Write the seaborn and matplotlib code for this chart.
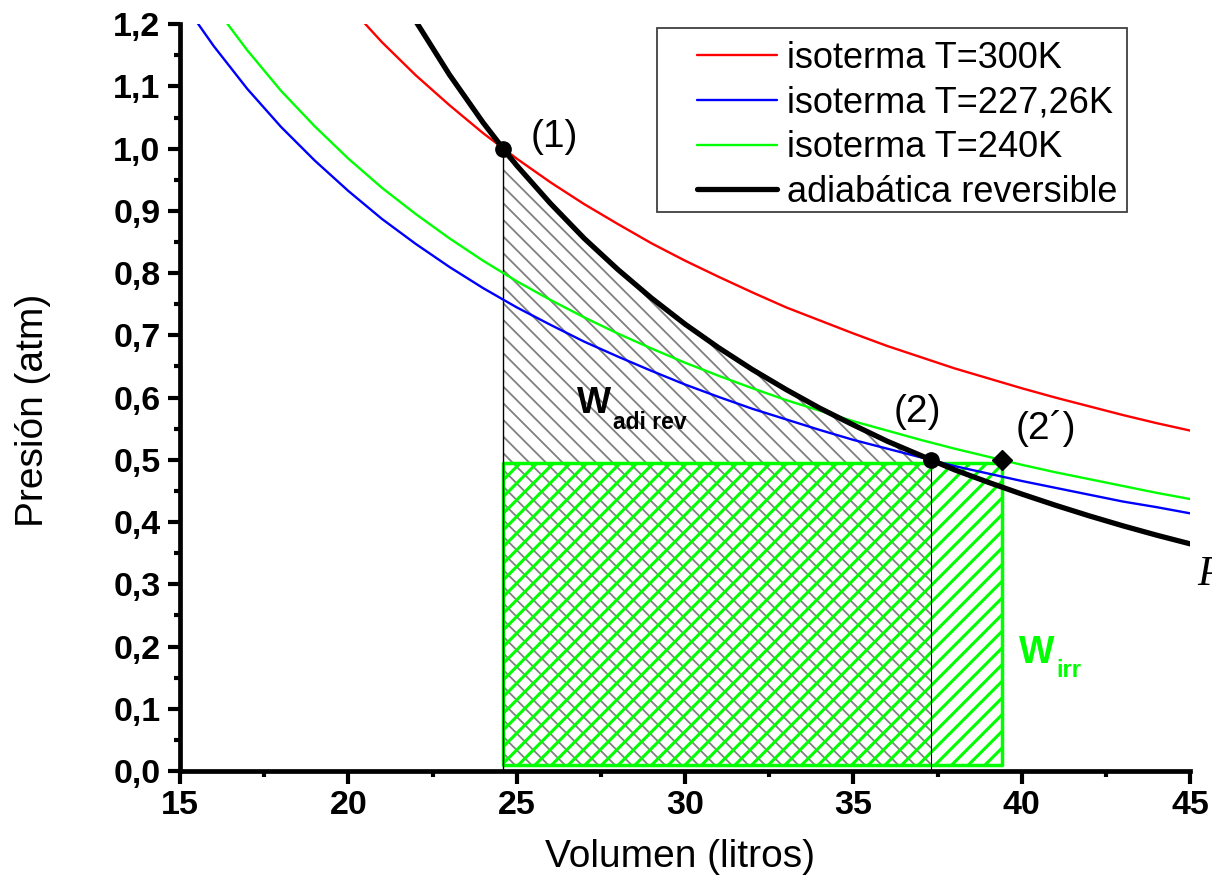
import numpy as np
import pandas as pd
import matplotlib
matplotlib.use("Agg")
import matplotlib.pyplot as plt
import seaborn as sns
from matplotlib.ticker import FuncFormatter, MultipleLocator
from matplotlib.patches import Rectangle

# ---- data ----
vol = [15, 16, 17, 18, 19, 20, 21, 22, 23, 24, 25, 26, 27, 28, 29, 30,
       31, 32, 33, 34, 35, 36, 37, 38, 39, 40, 41, 42, 43, 44, 45]
p_300 = [1.640, 1.538, 1.447, 1.367, 1.295, 1.230, 1.171, 1.118, 1.070, 1.025,
         0.984, 0.946, 0.911, 0.879, 0.848, 0.820, 0.794, 0.769, 0.745, 0.724,
         0.703, 0.683, 0.665, 0.647, 0.631, 0.615, 0.600, 0.586, 0.572, 0.559, 0.547]
p_227 = [1.242, 1.165, 1.096, 1.035, 0.981, 0.932, 0.887, 0.847, 0.810, 0.776,
         0.745, 0.717, 0.690, 0.666, 0.643, 0.621, 0.601, 0.582, 0.565, 0.548,
         0.532, 0.518, 0.504, 0.490, 0.478, 0.466, 0.455, 0.444, 0.433, 0.424, 0.414]
p_240 = [1.312, 1.230, 1.158, 1.093, 1.036, 0.984, 0.937, 0.895, 0.856, 0.820,
         0.787, 0.757, 0.729, 0.703, 0.679, 0.656, 0.635, 0.615, 0.596, 0.579,
         0.562, 0.547, 0.532, 0.518, 0.505, 0.492, 0.480, 0.469, 0.458, 0.447, 0.437]
vol_adi = [21, 22, 23, 24, 24.6, 25, 26, 27, 28, 29, 30, 31, 32, 33, 34, 35, 36,
           37, 37.3, 38, 39, 40, 41, 42, 43, 44, 45]
p_adi = [1.302, 1.205, 1.119, 1.042, 1.000, 0.973, 0.912, 0.856, 0.806, 0.760,
         0.718, 0.680, 0.645, 0.613, 0.583, 0.556, 0.530, 0.507, 0.500, 0.484,
         0.464, 0.445, 0.427, 0.410, 0.394, 0.379, 0.365]
labels = ["isoterma T=300K", "isoterma T=227,26K", "isoterma T=240K",
          "adiabática reversible"]
colors = ["#ff0000", "#0000ff", "#00ff00", "#000000"]

v1, p1 = 24.6, 1.0      # punto (1)
v2, p2 = 37.3, 0.5      # punto (2)
v2b, p2b = 39.4, 0.5    # punto (2')
p_irr = 0.495           # top of W_irr rectangle
p_base = 0.01

sns.set_theme(style="ticks")
plt.rcParams["font.family"] = ["Liberation Sans", "DejaVu Sans"]
for k in ["text.color", "axes.labelcolor", "xtick.color", "ytick.color", "axes.edgecolor"]:
    plt.rcParams[k] = "black"

fig = plt.figure(figsize=(12.12, 8.96), dpi=100)
ax = fig.add_axes([0.1485, 0.1395, 0.8335, 0.8335])

df_iso = pd.DataFrame({"V": vol * 3, "P": p_300 + p_227 + p_240,
                       "curva": [labels[0]] * len(vol) + [labels[1]] * len(vol)
                       + [labels[2]] * len(vol)})
df_adi = pd.DataFrame({"V": vol_adi, "P": p_adi})

# hatched areas
mask = [(v >= v1) and (v <= v2) for v in vol_adi]
vv = [v for v, m in zip(vol_adi, mask) if m]
pp = [p for p, m in zip(p_adi, mask) if m]
plt.rcParams["hatch.linewidth"] = 1.3
ax.fill_between(vv, p_base, pp, facecolor="none", edgecolor="#808080",
                hatch="\\\\", linewidth=0, zorder=1)
plt.rcParams["hatch.linewidth"] = 2.2
ax.fill_between([v1, v2b], p_base, p_irr, facecolor="none", edgecolor="#00ff00",
                hatch="//", linewidth=2.5, zorder=2)
ax.plot([v1, v1], [0, p1], color="black", lw=1, zorder=2)
ax.plot([v2, v2], [0, p2], color="black", lw=0.8, zorder=2)

for lab, col in zip(labels[:3], colors[:3]):
    sns.lineplot(data=df_iso[df_iso["curva"] == lab], x="V", y="P", color=col,
                 lw=1.7, label=lab, ax=ax, zorder=3)
sns.lineplot(data=df_adi, x="V", y="P", color="black", lw=3.8,
             label=labels[3], ax=ax, zorder=4)

ax.plot([v1, v2], [p1, p2], "o", color="black", ms=11, zorder=5)
ax.plot([v2b], [p2b], "D", color="black", ms=10, zorder=5)

ax.set_xlim(15, 45)
ax.set_ylim(0, 1.2)
ax.xaxis.set_major_locator(MultipleLocator(5))
ax.xaxis.set_minor_locator(MultipleLocator(2.5))
ax.yaxis.set_major_locator(MultipleLocator(0.1))
ax.yaxis.set_minor_locator(MultipleLocator(0.05))
ax.yaxis.set_major_formatter(FuncFormatter(lambda v, _: f"{v:.1f}".replace(".", ",")))
ax.xaxis.set_major_formatter(FuncFormatter(lambda v, _: f"{v:.0f}"))
for s in ["top", "right"]:
    ax.spines[s].set_visible(False)
for s in ["left", "bottom"]:
    ax.spines[s].set_linewidth(3.4)
ax.tick_params(which="major", length=9, width=3, labelsize=24.5, pad=5)
ax.tick_params(which="minor", length=4.5, width=3)
for t in ax.get_xticklabels() + ax.get_yticklabels():
    t.set_fontweight("bold")

ax.set_xlabel("Volumen (litros)", fontsize=28)
ax.set_ylabel("Presión (atm)", fontsize=28)
ax.xaxis.set_label_coords(0.4945, -0.1145)
ax.yaxis.set_label_coords(-0.1455, 0.483)
ax.xaxis.label.set_va("center")
ax.yaxis.label.set_va("center")

# legend: frame drawn as rectangle in axes coordinates, entries inside
frame = Rectangle((0.472, 0.748), 0.4656, 0.2466, transform=ax.transAxes,
                  facecolor="white", edgecolor="#404040", linewidth=1.3, zorder=6)
ax.add_patch(frame)
leg = ax.legend(loc="center left", bbox_to_anchor=(0.512, 0.8645),
                borderaxespad=0, borderpad=0, fontsize=26, handlelength=2.2,
                handletextpad=0.3, labelspacing=0.27, frameon=False)
leg.set_zorder(7)
for h, col in zip(leg.get_lines(), colors):
    h.set_color(col)

ax.text(26.11, 1.018, "(1)", fontsize=28, ha="center", va="center")
ax.text(36.9, 0.577, "(2)", fontsize=28, ha="center", va="center")
ax.text(40.7, 0.551, "(2´)", fontsize=28, ha="center", va="center")
ax.text(26.79, 0.575, "W", fontsize=26, fontweight="bold", ha="left", va="baseline")
ax.annotate("adi rev", xy=(26.79, 0.575), xytext=(26, -11.5), textcoords="offset points",
            fontsize=16.5, fontweight="bold", ha="left", va="baseline")
ax.text(39.92, 0.1735, "W", fontsize=27, fontweight="bold", color="#00ff00",
        ha="left", va="baseline")
ax.annotate("irr", xy=(39.92, 0.1735), xytext=(27, -10), textcoords="offset points",
            fontsize=17, fontweight="bold", color="#00ff00", ha="left", va="baseline")
fig.text(1197 / 1212, 1 - 575 / 896, "P", fontsize=30, family="Liberation Serif",
         style="italic", ha="left", va="center")

fig.savefig("out.png", dpi=100)
